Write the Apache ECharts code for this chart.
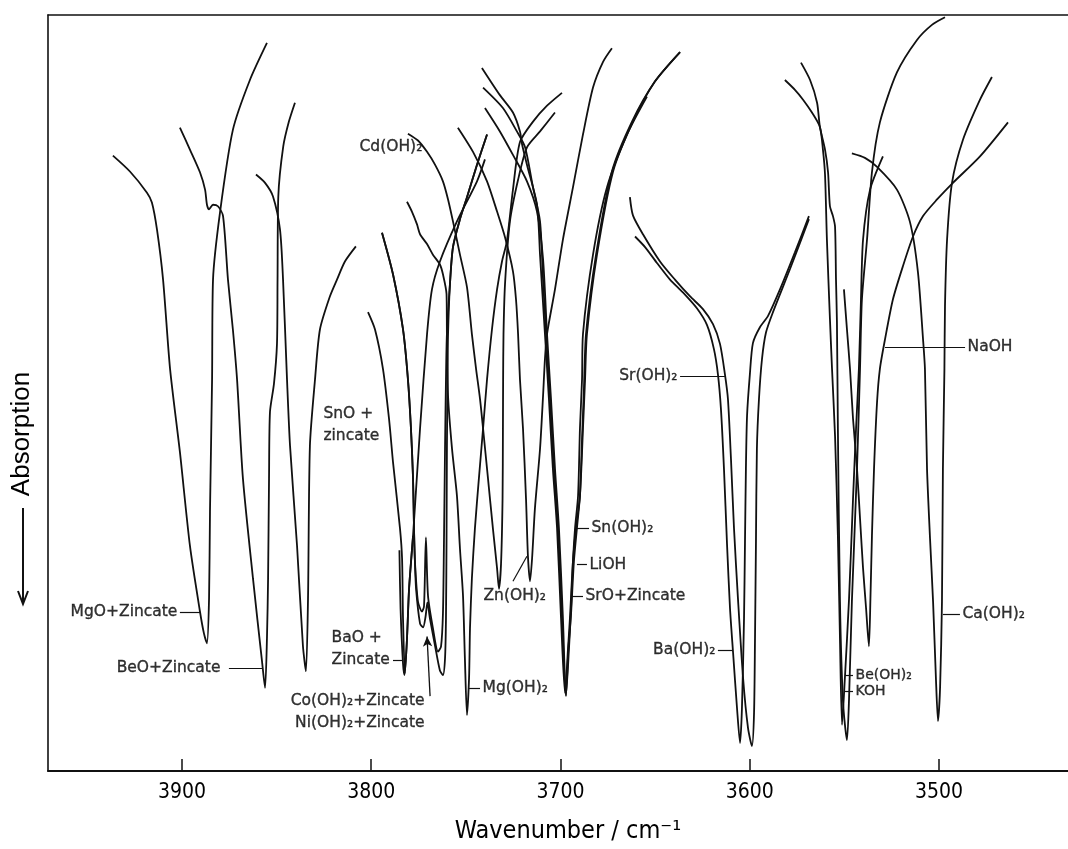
<!DOCTYPE html>
<html><head><meta charset="utf-8">
<script src="https://cdn.jsdelivr.net/npm/echarts@6/dist/echarts.min.js"></script>
<style>html,body{margin:0;padding:0;background:#fff}#chart{width:1068px;height:849px}</style>
</head><body><div id="chart"></div>
<script>
// Wavenumber axis ticks (cm-1)
const wavenumberTicks = [3900, 3800, 3700, 3600, 3500];

// Each trace: [wavenumber (cm-1), relative transmission (0 = bottom, 100 = top of frame)]
const mgoZincate = [[3936.5,81.4],[3927.5,79.3],[3918.5,76.5],[3915.9,75.2],[3913.2,71.6],[3910.0,65.0],[3906.3,53.2],[3901.1,42.2],[3895.8,29.8],[3890.5,21.1],[3888.4,18.2],[3886.8,16.9],[3885.7,22.8],[3885.2,34.3],[3884.1,51.8],[3883.6,65.0],[3879.9,73.9],[3873.1,84.8],[3864.1,91.4],[3855.1,96.3]];
const beoZincate = [[3901.1,85.1],[3895.8,82.2],[3890.5,79.2],[3887.8,76.9],[3886.8,74.9],[3885.7,74.3],[3883.6,74.9],[3881.0,74.7],[3878.3,73.4],[3875.7,65.0],[3873.1,58.4],[3870.9,51.8],[3867.8,38.7],[3862.5,25.5],[3857.7,14.5],[3856.1,11.0],[3855.1,17.5],[3854.5,25.5],[3854.0,38.7],[3853.5,47.5],[3851.4,51.2],[3849.8,56.5],[3849.5,65.0],[3849.1,76.0],[3846.5,82.6],[3843.5,85.9],[3840.3,88.4]];
const unlabeledTrace = [[3860.9,78.9],[3856.1,77.8],[3851.9,76.0],[3848.2,71.6],[3846.6,65.0],[3844.5,51.8],[3842.9,43.0],[3839.2,29.8],[3836.1,16.6],[3834.5,13.2],[3833.4,22.8],[3832.4,43.0],[3829.7,51.8],[3827.1,58.4],[3821.8,62.8],[3818.1,65.0],[3813.9,67.4],[3808.1,69.4]];
const snoZincate = [[3801.7,60.7],[3798.0,58.4],[3793.8,53.2],[3790.6,46.6],[3788.5,40.9],[3784.8,32.1],[3783.7,28.1],[3783.2,20.2],[3782.2,12.9],[3781.1,17.5],[3780.0,24.1],[3777.9,31.1],[3774.2,45.3],[3770.5,57.8],[3767.9,63.7],[3763.7,67.4],[3754.7,72.7],[3744.1,78.0],[3739.9,80.9]];
const baoZincate = [[3785.1,29.2],[3784.5,21.5],[3783.2,14.2],[3782.4,12.7],[3781.1,17.5],[3780.0,24.1],[3777.9,31.1]];
const coZincate = [[3794.3,71.2],[3788.5,65.7],[3783.2,58.4],[3780.6,51.8],[3779.0,45.3],[3777.9,38.7],[3777.4,32.1],[3776.9,27.7],[3775.3,22.4],[3773.2,21.1],[3772.1,21.8],[3771.1,30.9],[3770.0,23.2],[3767.4,18.9],[3764.7,15.8],[3763.1,16.5],[3762.1,20.8],[3761.6,29.4],[3761.0,42.6],[3760.5,51.8],[3760.0,57.8],[3758.4,64.4],[3756.8,69.3],[3753.1,73.0],[3749.4,75.9],[3744.1,80.2],[3738.8,84.2]];
const niZincate = [[3794.3,71.2],[3788.5,65.7],[3783.2,58.4],[3780.6,51.8],[3779.0,45.3],[3777.9,38.7],[3777.4,32.1],[3776.9,27.7],[3776.3,24.1],[3774.2,19.5],[3772.6,19.0],[3771.3,20.4],[3770.3,22.3],[3769.0,20.2],[3766.3,16.6],[3763.7,13.3],[3762.1,12.7],[3761.0,14.9],[3760.5,20.2],[3760.2,30.7],[3760.0,42.6],[3759.7,51.8],[3759.4,57.8],[3758.4,64.4],[3756.8,69.3],[3753.1,73.0],[3749.4,75.9],[3744.1,80.2],[3738.8,84.2]];
const mgOH2 = [[3781.1,75.3],[3778.5,74.0],[3775.8,72.3],[3774.2,71.0],[3770.5,69.7],[3767.4,68.3],[3763.7,67.0],[3762.1,65.7],[3760.2,63.1],[3760.0,57.8],[3759.4,49.6],[3757.3,42.6],[3754.7,36.4],[3753.1,29.4],[3751.5,23.2],[3750.5,14.9],[3749.4,7.4],[3748.3,12.3],[3747.8,18.9],[3746.8,25.5],[3745.2,32.1],[3743.1,38.7],[3740.9,45.3],[3738.8,51.8],[3736.2,58.4],[3733.5,63.7],[3730.9,67.4],[3728.3,70.1],[3725.1,76.9],[3721.4,83.2],[3714.5,85.9],[3707.1,88.0],[3699.2,89.7]];
const cdOH2 = [[3780.6,84.3],[3775.3,83.4],[3770.5,81.9],[3766.3,80.2],[3762.1,78.0],[3759.4,75.6],[3756.8,72.7],[3753.1,68.3],[3749.4,64.0],[3746.8,57.8],[3744.6,53.2],[3742.5,49.2],[3740.9,45.3],[3738.3,38.7],[3735.7,32.1],[3733.5,26.8],[3732.5,24.1],[3731.4,27.4],[3730.6,36.0],[3730.4,45.3],[3730.3,51.8],[3730.1,57.8],[3729.3,64.4],[3726.7,72.7],[3722.4,78.2],[3717.7,82.5],[3710.8,84.6],[3702.9,87.1]];
const znOH2 = [[3754.2,85.1],[3746.2,81.9],[3738.8,78.0],[3733.5,74.0],[3729.3,70.6],[3725.1,66.1],[3723.5,62.4],[3722.4,57.8],[3721.4,51.8],[3719.8,45.3],[3718.2,36.0],[3717.2,28.5],[3716.1,25.1],[3715.0,28.1],[3713.5,34.7],[3710.8,42.6],[3709.2,49.6],[3708.2,54.5],[3707.1,57.8],[3702.9,63.7],[3698.7,70.3],[3693.4,77.2],[3688.1,84.2],[3682.8,90.4],[3677.5,93.8],[3672.8,95.6]];
const snOH2 = [[3741.5,93.0],[3732.0,89.4],[3725.1,87.1],[3721.4,84.6],[3720.3,82.9],[3717.7,80.2],[3712.4,74.9],[3710.8,68.3],[3708.2,57.8],[3706.1,49.2],[3704.0,40.0],[3701.8,32.1],[3699.7,20.2],[3697.6,10.3],[3696.0,16.2],[3695.0,20.2],[3693.4,27.7],[3691.8,32.1],[3689.7,36.4],[3688.1,45.3],[3687.0,51.8],[3686.0,57.8],[3680.7,68.3],[3672.2,79.3],[3661.7,85.9],[3650.1,91.2],[3636.8,95.1]];
const liOH = [[3740.9,90.4],[3730.4,87.7],[3723.0,84.6],[3718.7,82.5],[3714.5,77.2],[3710.8,72.7],[3709.2,65.0],[3707.6,57.8],[3705.5,49.2],[3703.4,40.0],[3701.3,32.1],[3699.2,20.2],[3697.1,10.0],[3695.5,16.2],[3694.4,21.5],[3693.4,27.7],[3692.3,32.1],[3690.7,36.4],[3689.7,45.3],[3688.6,51.8],[3688.1,57.8],[3682.8,68.3],[3675.4,77.2],[3664.8,84.2],[3654.3,89.2]];
const sroZincate = [[3739.9,87.7],[3732.0,84.6],[3725.1,81.5],[3717.7,78.0],[3712.4,74.0],[3709.2,67.7],[3707.1,57.8],[3705.0,49.2],[3702.9,40.0],[3700.8,32.1],[3698.7,20.2],[3697.1,9.9],[3695.8,16.2],[3694.4,20.8],[3692.9,27.7],[3691.3,32.1],[3689.7,36.4],[3688.6,43.9],[3687.6,50.5],[3686.5,57.8],[3681.2,68.3],[3672.8,79.3],[3662.2,85.9],[3650.1,91.2],[3636.8,95.1]];
const baOH2 = [[3660.6,70.7],[3655.3,69.3],[3649.0,67.2],[3642.1,65.0],[3635.3,63.3],[3627.9,61.2],[3622.6,59.0],[3618.9,55.8],[3616.8,52.5],[3615.2,47.9],[3613.6,40.0],[3612.0,30.1],[3610.4,21.5],[3608.8,15.7],[3606.7,8.3],[3605.1,3.7],[3604.1,8.3],[3603.0,20.2],[3602.5,30.1],[3602.0,40.0],[3601.4,47.0],[3599.9,52.5],[3598.3,56.6],[3594.6,58.7],[3590.3,60.2],[3584.0,63.7],[3576.1,68.6],[3568.7,73.4]];
const srOH2 = [[3663.3,75.9],[3661.7,73.5],[3656.4,71.0],[3647.4,67.4],[3639.5,65.0],[3631.6,62.8],[3624.7,61.1],[3619.4,59.1],[3615.7,56.5],[3613.1,52.5],[3611.5,49.2],[3609.9,41.3],[3608.3,32.1],[3606.2,22.8],[3603.5,12.3],[3600.9,5.7],[3598.8,3.3],[3597.7,7.7],[3597.2,17.5],[3596.7,30.1],[3596.2,42.6],[3595.1,49.2],[3593.5,54.5],[3591.4,58.0],[3587.7,60.7],[3578.7,66.4],[3568.7,73.0]];
const beOH2 = [[3581.4,91.4],[3576.1,90.1],[3571.8,88.8],[3567.1,87.1],[3562.9,85.2],[3561.3,82.2],[3560.2,78.9],[3559.2,70.3],[3557.6,59.8],[3556.5,53.2],[3554.9,44.3],[3553.4,31.1],[3552.3,17.5],[3551.2,6.1],[3549.7,12.3],[3547.5,22.8],[3545.4,36.0],[3543.8,45.3],[3542.3,53.2],[3541.2,62.4],[3540.1,70.3],[3536.4,76.9],[3529.6,81.3]];
const kOH = [[3572.9,93.7],[3568.1,91.4],[3564.4,88.4],[3562.9,85.2],[3560.2,82.2],[3558.6,79.2],[3557.6,74.7],[3556.0,73.4],[3554.9,72.0],[3554.4,65.0],[3553.9,59.4],[3553.4,45.3],[3552.3,22.4],[3550.7,9.2],[3548.6,4.1],[3547.5,9.6],[3546.0,22.4],[3543.3,40.0],[3541.7,53.2],[3540.7,62.4],[3538.0,70.3],[3535.4,79.2],[3531.2,85.8],[3522.2,92.4],[3511.6,96.7],[3503.7,98.7],[3496.8,99.7]];
const naOH = [[3550.2,63.7],[3548.6,58.4],[3547.0,53.2],[3545.4,46.6],[3543.3,40.0],[3541.7,33.4],[3540.1,26.8],[3538.5,21.5],[3537.0,16.5],[3536.2,22.8],[3535.4,31.1],[3534.3,40.0],[3532.7,48.8],[3531.2,53.2],[3528.5,57.1],[3524.3,62.4],[3519.0,66.8],[3513.7,70.7],[3508.4,73.4],[3501.0,75.6],[3492.6,77.8],[3478.3,81.3],[3463.5,85.8]];
const caOH2 = [[3546.0,81.7],[3539.1,81.1],[3532.7,79.9],[3522.2,76.9],[3515.3,72.6],[3511.1,66.0],[3508.4,57.1],[3507.4,53.2],[3506.3,40.0],[3504.7,30.7],[3503.1,22.4],[3501.6,12.3],[3500.5,6.6],[3499.4,11.0],[3498.4,22.4],[3497.9,40.0],[3497.1,53.2],[3496.8,61.5],[3495.7,70.3],[3493.1,77.8],[3487.3,83.5],[3478.3,88.8],[3472.0,91.8]];

// Annotation texts: anchor point (data units), side of text, optional leader line
const labelTexts = ['MgO+Zincate','BeO+Zincate','SnO +\nzincate','BaO +\nZincate','Co(OH)₂+Zincate\nNi(OH)₂+Zincate','Mg(OH)₂','Zn(OH)₂','Cd(OH)₂','Sn(OH)₂','LiOH','SrO+Zincate','Sr(OH)₂','Ba(OH)₂','Be(OH)₂','KOH','NaOH','Ca(OH)₂'];
const labelAnchors = [[3901.1,21.0],[3875.2,13.6],[3826.6,45.8],[3822.3,16.1],[3770.5,7.8],[3742.5,10.95],[3742.0,23.2],[3807.5,82.5],[3684.9,32.1],[3686.0,27.3],[3688.1,23.1],[3636.8,52.2],[3616.8,16.0],[3545.4,12.7],[3545.4,10.6],[3486.2,56.1],[3488.9,20.8]];
const labelSides = ['left','left','right','right','left','right','right','right','right','right','right','left','left','right','right','right','right'];
const leaderLines = [
  [[3901.1,21.0],[3890.0,21.0]],
  [[3875.2,13.6],[3857.7,13.6]],
  [[3788.5,14.6],[3783.2,14.6]],
  [[3748.3,10.95],[3742.5,10.95]],
  [[3725.1,25.1],[3717.7,28.4]],
  [[3691.3,32.1],[3684.9,32.1]],
  [[3691.3,27.3],[3686.0,27.3]],
  [[3693.9,23.1],[3688.1,23.1]],
  [[3636.8,52.2],[3613.1,52.2]],
  [[3616.8,16.0],[3608.8,16.0]],
  [[3549.7,12.7],[3545.4,12.7]],
  [[3549.7,10.6],[3545.4,10.6]],
  [[3528.5,56.1],[3486.2,56.1]],
  [[3497.9,20.8],[3488.9,20.8]]
];
const pointerArrow = [[3768.9,9.9],[3770.5,17.8]];

const traces = [
  ['MgO+Zincate', mgoZincate], ['BeO+Zincate', beoZincate], ['unlabeled', unlabeledTrace],
  ['SnO+zincate', snoZincate], ['BaO+Zincate', baoZincate], ['Co(OH)2+Zincate', coZincate],
  ['Ni(OH)2+Zincate', niZincate], ['Mg(OH)2', mgOH2], ['Cd(OH)2', cdOH2], ['Zn(OH)2', znOH2],
  ['Sn(OH)2', snOH2], ['LiOH', liOH], ['SrO+Zincate', sroZincate], ['Ba(OH)2', baOH2],
  ['Sr(OH)2', srOH2], ['Be(OH)2', beOH2], ['KOH', kOH], ['NaOH', naOH], ['Ca(OH)2', caOH2]
];

const INK = '#000';
const labelFont = "'DejaVu Sans', 'Noto Sans', sans-serif";
const narrowFont = "'Liberation Sans Narrow', 'DejaVu Sans Condensed', 'Liberation Sans', sans-serif";
const X_MIN = 3431.8, X_MAX = 3970.8;

const series = traces.map(([name, data]) => ({
  type: 'line', name, data, symbol: 'none', smooth: 0.25, silent: true,
  lineStyle: { color: '#111', width: 1.8 }, clip: true, z: 2
}));

const markData = leaderLines.map(l => [{ coord: l[0] }, { coord: l[1] }]);
markData.push([
  { coord: pointerArrow[0], symbol: 'none', lineStyle: { curveness: 0.25, width: 1.3 } },
  { coord: pointerArrow[1], symbol: 'arrow', symbolSize: [7, 10] }
]);

series.push({
  type: 'scatter', name: 'labels', silent: true, z: 5,
  symbolSize: 1, itemStyle: { color: 'rgba(0,0,0,0)' },
  data: labelTexts.map((t, i) => ({
    value: labelAnchors[i],
    label: {
      show: true, formatter: t, position: labelSides[i],
      distance: (i === 1 ? 8 : 2),
      color: INK, fontFamily: labelFont,
      fontSize: (i === 13 || i === 14) ? 14 : 15.5,
      lineHeight: 22,
      textBorderColor: '#000', textBorderWidth: 0.35
    }
  })),
  markLine: {
    silent: true, symbol: ['none', 'none'], animation: false,
    label: { show: false },
    lineStyle: { color: '#111', width: 1.2, type: 'solid' },
    emphasis: { disabled: true },
    data: markData
  }
});

const chart = echarts.init(document.getElementById('chart'));
chart.setOption({
  animation: false,
  backgroundColor: '#fff',
  grid: { left: 48, right: 0, top: 15, bottom: 76, show: false },
  xAxis: [{
    type: 'value', inverse: true, min: X_MIN, max: X_MAX, position: 'bottom',
    axisLine: { show: true, onZero: false, lineStyle: { color: '#111', width: 2 } },
    axisTick: { show: true, inside: true, length: 12, customValues: wavenumberTicks, lineStyle: { color: '#111', width: 1.5 } },
    axisLabel: { customValues: wavenumberTicks, fontSize: 21, color: INK, fontFamily: narrowFont, margin: 11, formatter: v => String(v) },
    splitLine: { show: false },
    name: 'Wavenumber / cm⁻¹', nameLocation: 'middle', nameGap: 48,
    nameTextStyle: { fontSize: 25, color: INK, fontFamily: narrowFont, padding: [0, 0, 0, 20] }
  }, {
    type: 'value', inverse: true, min: X_MIN, max: X_MAX, position: 'top',
    axisLine: { show: true, onZero: false, lineStyle: { color: '#111', width: 1.6 } },
    axisTick: { show: false }, axisLabel: { show: false }, splitLine: { show: false }
  }],
  yAxis: {
    type: 'value', min: 0, max: 100, position: 'left',
    axisLine: { show: true, onZero: false, lineStyle: { color: '#111', width: 1.6 } },
    axisTick: { show: false }, axisLabel: { show: false }, splitLine: { show: false }
  },
  graphic: [
    { type: 'text', x: 22, y: 434, rotation: Math.PI / 2,
      style: { text: 'Absorption', fontSize: 26, fontFamily: "'Liberation Sans', Arial, sans-serif", fill: INK, align: 'center', verticalAlign: 'middle' } },
    { type: 'line', shape: { x1: 23, y1: 508, x2: 23, y2: 603 }, style: { stroke: '#111', lineWidth: 2 } },
    { type: 'polyline', shape: { points: [[18, 591], [23, 604], [28, 591]] }, style: { stroke: '#111', lineWidth: 2, fill: null } }
  ],
  series
});
</script></body></html>
